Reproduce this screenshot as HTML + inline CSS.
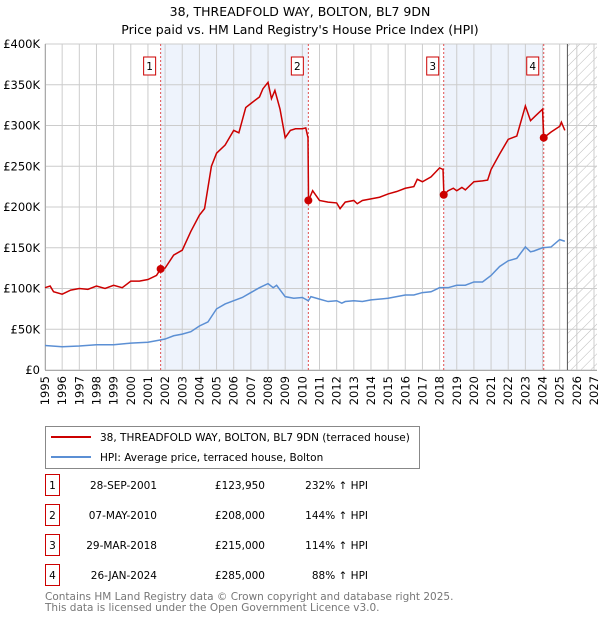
<!DOCTYPE html>
<html><head><meta charset="utf-8">
<style>
body{margin:0;background:#fff;font-family:"DejaVu Sans","Liberation Sans",sans-serif;}
svg text{font-family:"DejaVu Sans","Liberation Sans",sans-serif;}
</style></head>
<body>
<svg id="chart" width="600" height="620" viewBox="0 0 600 620">
<defs>
<pattern id="hatch" width="7" height="7" patternUnits="userSpaceOnUse" patternTransform="rotate(45)">
<line x1="0" y1="0" x2="0" y2="7" stroke="#bbb" stroke-width="1"/>
</pattern>
</defs>
<text x="300" y="16" text-anchor="middle" font-size="12.5">38, THREADFOLD WAY, BOLTON, BL7 9DN</text>
<text x="300" y="34" text-anchor="middle" font-size="12.5">Price paid vs. HM Land Registry's House Price Index (HPI)</text>
<g id="plot"></g>
<g>
<rect x="45.5" y="426.5" width="374" height="42" fill="#fff" stroke="#888"/>
<line x1="51" y1="437" x2="91" y2="437" stroke="#cc0000" stroke-width="2"/>
<text x="100" y="441" font-size="10.5">38, THREADFOLD WAY, BOLTON, BL7 9DN (terraced house)</text>
<line x1="51" y1="457" x2="91" y2="457" stroke="#5b8fd4" stroke-width="2"/>
<text x="100" y="461" font-size="10.5">HPI: Average price, terraced house, Bolton</text>
</g>
<g id="table" font-size="10.5"></g>
<text x="45" y="600" font-size="10.5" fill="#777">Contains HM Land Registry data © Crown copyright and database right 2025.</text>
<text x="45" y="611" font-size="10.5" fill="#777">This data is licensed under the Open Government Licence v3.0.</text>
</svg>
<script>
const hpiT=[1995,1996,1997,1998,1999,2000,2001,2001.75,2002,2002.5,2003,2003.5,2004,2004.5,2005,2005.5,2006,2006.5,2007,2007.5,2008,2008.3,2008.5,2009,2009.5,2010,2010.35,2010.5,2011,2011.5,2012,2012.3,2012.5,2013,2013.5,2014,2015,2015.5,2016,2016.5,2017,2017.5,2018,2018.5,2019,2019.5,2020,2020.5,2021,2021.5,2022,2022.5,2023,2023.3,2023.5,2024,2024.5,2025,2025.3];
const hpiV=[30,28.5,29.5,31,31,33,34,37,38,42,44,47,54,59,75,81,85,89,95,101,106,101,104,90,88,89,85,90,87,84,85,82,84,85,84,86,88,90,92,92,95,96,101,101,104,104,108,108,116,127,134,137,151,145,146,150,151,160,158];
const redT=[1995,1995.3,1995.5,1996,1996.5,1997,1997.5,1998,1998.5,1999,1999.5,2000,2000.5,2001,2001.5,2001.74,2002,2002.5,2003,2003.5,2004,2004.3,2004.7,2005,2005.5,2006,2006.3,2006.7,2007,2007.5,2007.7,2008,2008.2,2008.4,2008.7,2009,2009.3,2009.6,2010,2010.2,2010.33,2010.36,2010.6,2011,2011.5,2012,2012.2,2012.5,2013,2013.2,2013.5,2014,2014.5,2015,2015.5,2016,2016.5,2016.7,2017,2017.5,2018,2018.2,2018.25,2018.5,2018.8,2019,2019.3,2019.5,2020,2020.5,2020.8,2021,2021.5,2022,2022.5,2023,2023.3,2023.6,2024,2024.07,2024.5,2025,2025.1,2025.3];
const redV=[101,103,96,93,98,100,99,103,100,104,101,109,109,111,116,124,125,141,147,170,190,198,250,266,276,294,291,322,327,335,345,353,333,343,320,285,294,296,296,297,285,208,220,208,206,205,198,206,208,204,208,210,212,216,219,223,225,234,231,237,248,246,215,220,223,220,224,221,231,232,233,246,265,283,287,324,306,312,320,285,292,299,304,294];
const saleT=[2001.74,2010.35,2018.24,2024.07];
const saleV=[123.95,208,215,285];
const saleLabels=["1","2","3","4"];
const saleDates=["28-SEP-2001","07-MAY-2010","29-MAR-2018","26-JAN-2024"];
const salePrices=["£123,950","£208,000","£215,000","£285,000"];
const salePct=["232% ↑ HPI","144% ↑ HPI","114% ↑ HPI","88% ↑ HPI"];
const yTicks=[0,50,100,150,200,250,300,350,400];
const yTickLabels=["£0","£50K","£100K","£150K","£200K","£250K","£300K","£350K","£400K"];
const xTicks=[];for(let y=1995;y<=2027;y++)xTicks.push(y);

const NS="http://www.w3.org/2000/svg";
const X0=45,X1=594,Y0=370,Y1=44;
const xs=t=>X0+(t-1995)/(2027-1995)*(X1-X0);
const ys=v=>Y0-v/400*(Y0-Y1);
const plot=document.getElementById('plot');
function mk(tag,attrs,parent){const e=document.createElementNS(NS,tag);for(const k in attrs)e.setAttribute(k,attrs[k]);(parent||plot).appendChild(e);return e;}

for(let i=0;i<saleT.length;i+=2){
 const r=mk('rect',{x:xs(saleT[i]),y:Y1,width:xs(saleT[i+1])-xs(saleT[i]),height:Y0-Y1,fill:'#eef3fc'});
 
 
}
const hx=xs(2025.45);
const hr=mk('rect',{x:hx,y:Y1,width:X1-hx+3,height:Y0-Y1,fill:'url(#hatch)'});


xTicks.forEach(t=>{const l=mk('line',{x1:xs(t),x2:xs(t),y1:Y1,y2:Y0,stroke:'#ccc','stroke-width':1});
 
 
 const tx=mk('text',{x:0,y:0,'font-size':11.5,'text-anchor':'end',transform:`translate(${xs(t)+4},${Y0+6}) rotate(-90)`});
 tx.textContent=t;
 
 
});
yTicks.forEach((v,i)=>{const l=mk('line',{x1:X0,x2:X1+3,y1:ys(v),y2:ys(v),stroke:'#ccc','stroke-width':1});
 
 
 const tx=mk('text',{x:40,y:ys(v)+4,'font-size':11.5,'text-anchor':'end'});
 tx.textContent=yTickLabels[i];
 
 
});
const dl=mk('line',{x1:hx,x2:hx,y1:Y1,y2:Y0,stroke:'#555','stroke-width':1});


saleT.forEach((t,i)=>{
 const l=mk('line',{x1:xs(t),x2:xs(t),y1:Y1,y2:Y0,stroke:'#e05050','stroke-width':1,'stroke-dasharray':'2,2'});
 
 
 const b=mk('rect',{x:xs(t)-17,y:57,width:12,height:18,fill:'#fff',stroke:'#cc0000'});
 
 
 const tx=mk('text',{x:xs(t)-11,y:70,'font-size':10.5,'text-anchor':'middle'});
 tx.textContent=saleLabels[i];
 
 
});
const fr=mk('path',{d:`M${X0+0.5},${Y1} V${Y0+0.5} H${X1+3}`,fill:'none',stroke:'#aaa'});


const hp=mk('polyline',{points:hpiT.map((t,i)=>xs(t)+','+ys(hpiV[i])).join(' '),fill:'none',stroke:'#5b8fd4','stroke-width':1.5});


const rp=mk('polyline',{points:redT.map((t,i)=>xs(t)+','+ys(redV[i])).join(' '),fill:'none',stroke:'#cc0000','stroke-width':1.5});


saleT.forEach((t,i)=>{const c=mk('circle',{cx:xs(t),cy:ys(saleV[i]),r:4,fill:'#cc0000'});
 
 
});
const tb=document.getElementById('table');
saleT.forEach((t,i)=>{
 const yy=483+i*30;
 const b=mk('rect',{x:45.5,y:yy-8.5,width:14,height:21,fill:'#fff',stroke:'#cc0000'},tb);
 
 
 const cells=[[52.5,saleLabels[i],'middle'],[157,saleDates[i],'end'],[265,salePrices[i],'end'],[368,salePct[i],'end']];
 cells.forEach(c=>{const tx=mk('text',{x:c[0],y:yy+6,'text-anchor':c[2]},tb);tx.textContent=c[1];
  
  });
});
</script>
</body></html>
